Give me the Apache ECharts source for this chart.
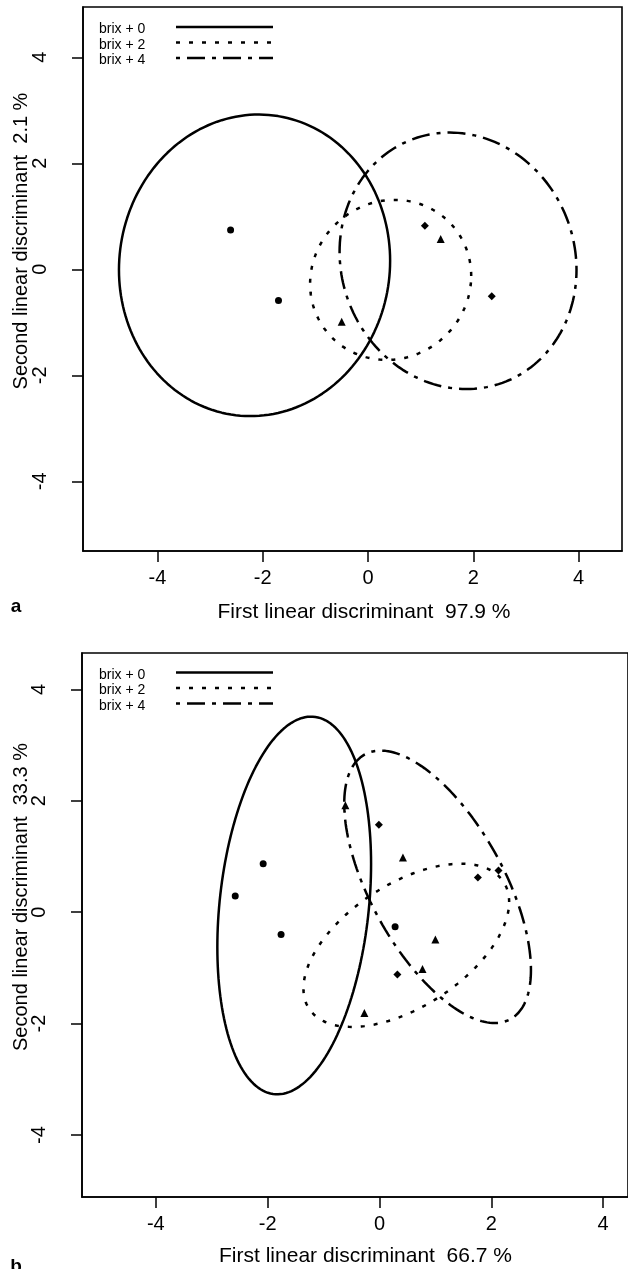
<!DOCTYPE html>
<html>
<head>
<meta charset="utf-8">
<script src="https://cdn.jsdelivr.net/npm/echarts@6/dist/echarts.min.js"></script>
<style>
html,body{margin:0;padding:0;background:#fff;}
#c{width:628px;height:1269px;}
</style>
</head>
<body>
<div id="c"></div>
<script>
// ---- data ----
const groups = ['brix + 0', 'brix + 2', 'brix + 4'];
const tickValues = [-4, -2, 0, 2, 4];
const xTitleA = 'First linear discriminant  97.9 %';
const yTitleA = 'Second linear discriminant  2.1 %';
const xTitleB = 'First linear discriminant  66.7 %';
const yTitleB = 'Second linear discriminant  33.3 %';

// ellipse parameters: [centerX, centerY, halfWidthX, halfHeightY, correlation]
const ellipseA0 = [-2.155, 0.075, 2.575, 2.845, 0.03];
const ellipseA2 = [0.43, -0.20, 1.53, 1.51, 0.05];
const ellipseA4 = [1.71, 0.16, 2.25, 2.42, -0.07];
const ellipseB0 = [-1.525, 0.12, 1.375, 3.39, 0.22];
const ellipseB2 = [0.48, -0.595, 1.84, 1.465, 0.53];
const ellipseB4 = [1.04, 0.455, 1.67, 2.445, -0.61];

// group points
const pointsA0 = [[-2.61, 0.74], [-1.70, -0.59]];
const pointsA2 = [[-0.50, -0.99], [1.38, 0.57]];
const pointsA4 = [[1.08, 0.82], [2.35, -0.51]];
const pointsB0 = [[-2.08, 0.87], [-2.58, 0.29], [-1.76, -0.40], [0.28, -0.26]];
const pointsB2 = [[0.42, 0.98], [1.00, -0.49], [0.77, -1.02], [-0.27, -1.81], [-0.61, 1.92]];
const pointsB4 = [[-0.01, 1.57], [1.76, 0.62], [2.13, 0.75], [0.32, -1.12]];

// ---- helpers ----
const FONT = '"Liberation Sans", Arial, Helvetica, sans-serif';
const INK = '#000';
const lineStyles = [
  { type: 'solid' },
  { type: [4, 9] },
  { type: [4, 7, 18, 7] }
];
const markerShapes = ['circle', 'triangle', 'diamond'];
const markerSizes = [7, 8, 8];

function ellipsePath(p) {
  const [cx, cy, sx, sy, r] = p;
  const d = Math.acos(r);
  const out = [];
  const n = 180;
  for (let i = 0; i <= n; i++) {
    const t = 2 * Math.PI * i / n;
    out.push([cx + sx * Math.cos(t), cy + sy * Math.cos(t - d)]);
  }
  return out;
}

function axisX(gridIndex, min, max) {
  return {
    type: 'value', gridIndex, min, max,
    axisLine: { show: true, onZero: false, lineStyle: { color: INK, width: 1.6 } },
    splitLine: { show: false },
    axisTick: { show: true, inside: false, length: 11, customValues: tickValues,
      lineStyle: { color: INK, width: 1.5 } },
    axisLabel: { customValues: tickValues, fontSize: 20, margin: 17, color: INK, fontFamily: FONT }
  };
}
function axisY(gridIndex, min, max) {
  return {
    type: 'value', gridIndex, min, max,
    axisLine: { show: true, onZero: false, lineStyle: { color: INK, width: 1.6 } },
    splitLine: { show: false },
    axisTick: { show: true, inside: false, length: 11, customValues: tickValues,
      lineStyle: { color: INK, width: 1.5 } },
    axisLabel: { customValues: tickValues, fontSize: 20, margin: 33, rotate: 90, color: INK, fontFamily: FONT }
  };
}

function panelSeries(idx, ells, pts) {
  const s = [];
  ells.forEach((e, g) => {
    s.push({
      type: 'line', name: groups[g], xAxisIndex: idx, yAxisIndex: idx,
      data: ellipsePath(e), showSymbol: false, smooth: false, silent: true,
      lineStyle: Object.assign({ color: INK, width: 2.5, cap: 'butt' }, lineStyles[g]),
      z: 2
    });
  });
  pts.forEach((p, g) => {
    s.push({
      type: 'scatter', name: groups[g], xAxisIndex: idx, yAxisIndex: idx,
      data: p, symbol: markerShapes[g], symbolSize: markerSizes[g],
      itemStyle: { color: INK, opacity: 1 }, z: 3
    });
  });
  return s;
}

function legendGraphics(topY) {
  const els = [];
  const dashes = [null, [4, 9], [4, 7, 18, 7]];
  groups.forEach((g, i) => {
    const y = topY + i * 15.5;
    els.push({ type: 'text', x: 99, y: y + 2.5, style: { text: g, fontSize: 14, fontFamily: FONT, fill: INK,
      align: 'left', verticalAlign: 'middle' } });
    els.push({ type: 'line', shape: { x1: 176, y1: y, x2: 273, y2: y },
      style: { stroke: INK, lineWidth: 2.4, lineDash: dashes[i] } });
  });
  return els;
}

const chart = echarts.init(document.getElementById('c'), null, { renderer: 'canvas' });
const option = {
  animation: false,
  backgroundColor: '#fff',
  grid: [
    { left: 83, top: 7, width: 539, height: 544, show: true, borderColor: INK, borderWidth: 1.6, backgroundColor: 'transparent' },
    { left: 82, top: 653, width: 547, height: 544, show: true, borderColor: INK, borderWidth: 1.6, backgroundColor: 'transparent' }
  ],
  xAxis: [axisX(0, -5.413, 4.824), axisX(1, -5.321, 4.446)],
  yAxis: [axisY(0, -5.315, 4.949), axisY(1, -5.113, 4.652)],
  series: [].concat(
    panelSeries(0, [ellipseA0, ellipseA2, ellipseA4], [pointsA0, pointsA2, pointsA4]),
    panelSeries(1, [ellipseB0, ellipseB2, ellipseB4], [pointsB0, pointsB2, pointsB4])
  ),
  graphic: [].concat(
    legendGraphics(27),
    legendGraphics(672.5),
    [
      { type: 'text', x: 364, y: 612, style: { text: xTitleA, fontSize: 21, fontFamily: FONT, fill: INK, align: 'center', verticalAlign: 'middle' } },
      { type: 'text', x: 365.5, y: 1256, style: { text: xTitleB, fontSize: 21, fontFamily: FONT, fill: INK, align: 'center', verticalAlign: 'middle' } },
      { type: 'text', x: 21, y: 241, rotation: Math.PI / 2, style: { text: yTitleA, fontSize: 20, fontFamily: FONT, fill: INK, align: 'center', verticalAlign: 'middle' } },
      { type: 'text', x: 21, y: 897, rotation: Math.PI / 2, style: { text: yTitleB, fontSize: 20, fontFamily: FONT, fill: INK, align: 'center', verticalAlign: 'middle' } },
      { type: 'text', x: 16, y: 607, style: { text: 'a', fontSize: 19, fontWeight: 'bold', fontFamily: FONT, fill: INK, align: 'center', verticalAlign: 'middle' } },
      { type: 'text', x: 16, y: 1267, style: { text: 'b', fontSize: 19, fontWeight: 'bold', fontFamily: FONT, fill: INK, align: 'center', verticalAlign: 'middle' } }
    ]
  )
};
chart.setOption(option);
</script>
</body>
</html>
